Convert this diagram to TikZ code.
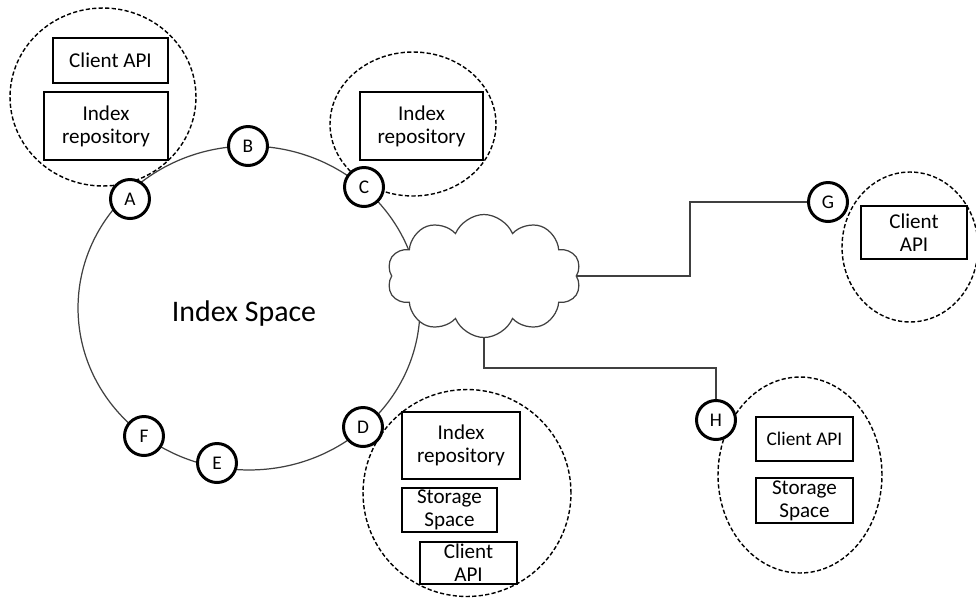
\documentclass[tikz,border=0pt]{standalone}
\usepackage{fontspec}
\setmainfont{Carlito}
\usetikzlibrary{shapes.geometric,shapes.symbols}

\begin{document}
\begin{tikzpicture}[x=0.02cm, y=-0.02cm,
  hub/.style={draw, circle, line width=1.7pt, fill=white, minimum size=0.78cm, inner sep=0pt, font=\fontsize{11}{12}\selectfont},
  group/.style={draw, ellipse, dashed, dash pattern=on 2.4pt off 1.3pt, line width=0.8pt, inner sep=0pt},
  part/.style={draw, line width=0.6pt, inner sep=0pt, align=center, font=\fontsize{12}{13}\selectfont},
  wire/.style={draw, line width=0.7pt, black!75}]
  \useasboundingbox (0,0) rectangle (976,599);

  %--- Groups around the hubs ---
  \node[group, minimum width=3.72cm, minimum height=3.56cm] (grpA) at (103,97) {};
  \node[group, minimum width=3.32cm, minimum height=2.88cm] (grpC) at (413,124) {};
  \node[group, minimum width=4.16cm, minimum height=4.14cm] (grpD) at (467,493) {};
  \node[group, minimum width=2.72cm, minimum height=3.0cm] (grpG) at (910,247) {};
  \node[group, minimum width=3.28cm, minimum height=3.92cm] (grpH) at (800,475) {};

  %--- Ring ---
  \node[draw, ellipse, line width=0.7pt, black!75, minimum width=6.84cm, minimum height=6.48cm, inner sep=0pt] (ring) at (249,308) {};
  \node[font=\fontsize{17}{20}\selectfont] (space) at (244,314) {Index Space};

  %--- Network ---
  \node[draw, cloud, cloud puffs=10, cloud puff arc=135, aspect=1.6, line width=0.7pt, black!75, fill=white, minimum width=3.88cm, minimum height=2.46cm, inner sep=0pt] (net) at (484,276) {};

  %--- Hubs ---
  \node[hub] (A) at (130,199) {A};
  \node[hub] (B) at (248,146) {B};
  \node[hub] (C) at (364,187) {C};
  \node[hub] (D) at (363,427) {D};
  \node[hub] (E) at (217,463) {E};
  \node[hub] (F) at (144,436) {F};
  \node[hub] (G) at (828,202) {G};
  \node[hub] (H) at (716,420) {H};

  % links from the cloud
  \draw[wire] (net.east) -- ++(113,0) |- (G);
  \draw[wire] (net.south) -- ++(0,30) -| (H);

  %--- Parts ---
  \node[part, minimum width=2.3cm, minimum height=0.9cm] (apiA) at (110.5,60.5) {Client API};
  \node[part, minimum width=2.48cm, minimum height=1.36cm] (repoA) at (106,126) {Index\\repository};
  \node[part, minimum width=2.46cm, minimum height=1.36cm] (repoC) at (421.5,126) {Index\\repository};
  \node[part, minimum width=2.36cm, minimum height=1.34cm] (repoD) at (461,445.5) {Index\\repository};
  \node[part, minimum width=1.9cm, minimum height=0.88cm] (storD) at (449.5,510) {Storage\\Space};
  \node[part, minimum width=1.94cm, minimum height=0.84cm] (apiD) at (468.5,563) {Client\\API};
  \node[part, minimum width=2.12cm, minimum height=1.06cm] (apiG) at (914,232.5) {Client\\API};
  \node[part, minimum width=1.94cm, minimum height=0.88cm, font=\fontsize{11}{12}\selectfont] (apiH) at (804.5,439) {Client API};
  \node[part, minimum width=1.94cm, minimum height=0.9cm] (storH) at (804.5,500.5) {Storage\\Space};
\end{tikzpicture}
\end{document}
